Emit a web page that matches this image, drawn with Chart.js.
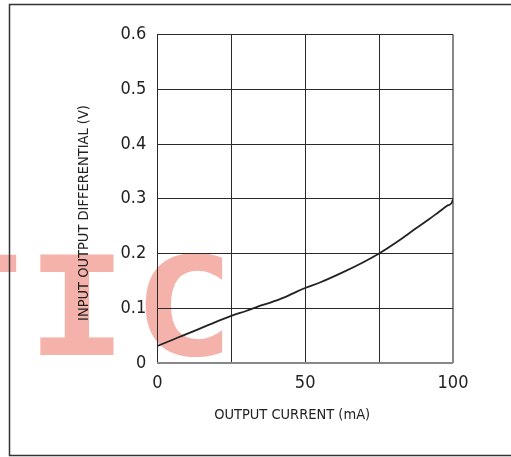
<!DOCTYPE html>
<html>
<head>
<meta charset="utf-8">
<script src="https://cdn.jsdelivr.net/npm/chart.js@4/dist/chart.umd.min.js"></script>
<style>
    html, body { margin: 0; padding: 0; background: #fff; }
    #wrap { width: 511px; height: 457px; }
</style>
</head>
<body>
<div id="wrap"><canvas id="diffChart" width="511" height="457"></canvas></div>
<script>
// values
const currentMA = [0, 5, 9, 14, 18, 25, 30, 34, 38, 43, 47, 50, 55, 62.5, 70, 75, 81, 87.5, 92, 95, 98, 99.5, 100];
const diffV = [0.031, 0.042, 0.051, 0.062, 0.071, 0.086, 0.095, 0.103, 0.110, 0.120, 0.130, 0.137, 0.147, 0.165, 0.185, 0.200, 0.221, 0.246, 0.263, 0.275, 0.287, 0.292, 0.299];
const xTickLabels = ['0', '50', '100'];
const xTitle = 'OUTPUT CURRENT (mA)';
const yTitle = 'INPUT OUTPUT DIFFERENTIAL (V)';
const watermarkLetters = ['T', 'I', 'C'];

const FONT = "'Liberation Sans Narrow', 'DejaVu Sans Condensed', 'Liberation Sans', sans-serif";
const INK = '#222';

const points = currentMA.map((x, i) => ({ x, y: diffV[i] }));

// salmon watermark behind the grid
const watermarkPlugin = {
    id: 'watermark',
    beforeDraw(chart) {
        const ctx = chart.ctx;
        const centers = [-27, 77, 184];
        const stretch = 1.22;
        ctx.save();
        ctx.font = "bold 138px 'DejaVu Sans Mono', monospace";
        ctx.fillStyle = '#f4b2aa';
        ctx.textAlign = 'center';
        ctx.textBaseline = 'alphabetic';
        ctx.scale(stretch, 1);
        watermarkLetters.forEach((ch, i) => ctx.fillText(ch, centers[i] / stretch, 355));
        ctx.restore();
    }
};

// page frame and axis titles
const framePlugin = {
    id: 'frame',
    afterDraw(chart) {
        const ctx = chart.ctx;
        const area = chart.chartArea;
        ctx.save();
        ctx.strokeStyle = '#333';
        ctx.lineWidth = 1.5;
        ctx.beginPath();
        ctx.moveTo(511, 4.5);
        ctx.lineTo(9.5, 4.5);
        ctx.lineTo(9.5, 455.5);
        ctx.lineTo(511, 455.5);
        ctx.stroke();

        ctx.fillStyle = INK;
        ctx.font = '14.5px ' + FONT;
        ctx.textAlign = 'center';
        ctx.textBaseline = 'middle';
        ctx.fillText(xTitle, (area.left + area.right) / 2 - 13, 415);

        ctx.translate(84, 213);
        ctx.rotate(-Math.PI / 2);
        ctx.fillText(yTitle, 0, 0);
        ctx.restore();
    }
};

const edgeColor = (edgeValue) => (ctx) => ctx.tick && ctx.tick.value === edgeValue ? '#888' : '#2a2a2a';
const edgeWidth = (edgeValue) => (ctx) => ctx.tick && ctx.tick.value === edgeValue ? 2 : 1;

new Chart(document.getElementById('diffChart').getContext('2d'), {
    type: 'line',
    data: {
        datasets: [{
            data: points,
            borderColor: INK,
            borderWidth: 1.8,
            pointRadius: 0,
            fill: false,
            cubicInterpolationMode: 'monotone'
        }]
    },
    options: {
        responsive: false,
        animation: false,
        layout: { padding: { left: 0, right: 58, top: 34.5, bottom: 0 } },
        plugins: { legend: { display: false }, tooltip: { enabled: false } },
        scales: {
            x: {
                type: 'linear',
                min: 0,
                max: 100,
                afterFit: (scale) => { scale.height = 94; },
                border: { display: false },
                grid: { color: edgeColor(100), lineWidth: edgeWidth(100), drawTicks: false },
                ticks: {
                    stepSize: 25,
                    padding: 10,
                    color: INK,
                    font: { family: FONT, size: 18 },
                    maxRotation: 0,
                    autoSkip: false,
                    callback: (v) => xTickLabels.includes(String(v)) ? String(v) : ''
                }
            },
            y: {
                min: 0,
                max: 0.6,
                afterFit: (scale) => { scale.width = 157.3; },
                border: { display: false },
                grid: { color: edgeColor(0), lineWidth: edgeWidth(0), drawTicks: false },
                ticks: {
                    stepSize: 0.1,
                    padding: 11,
                    color: INK,
                    font: { family: FONT, size: 18 },
                    callback: (v) => String(Math.round(v * 10) / 10)
                }
            }
        }
    },
    plugins: [watermarkPlugin, framePlugin]
});
</script>
</body>
</html>
